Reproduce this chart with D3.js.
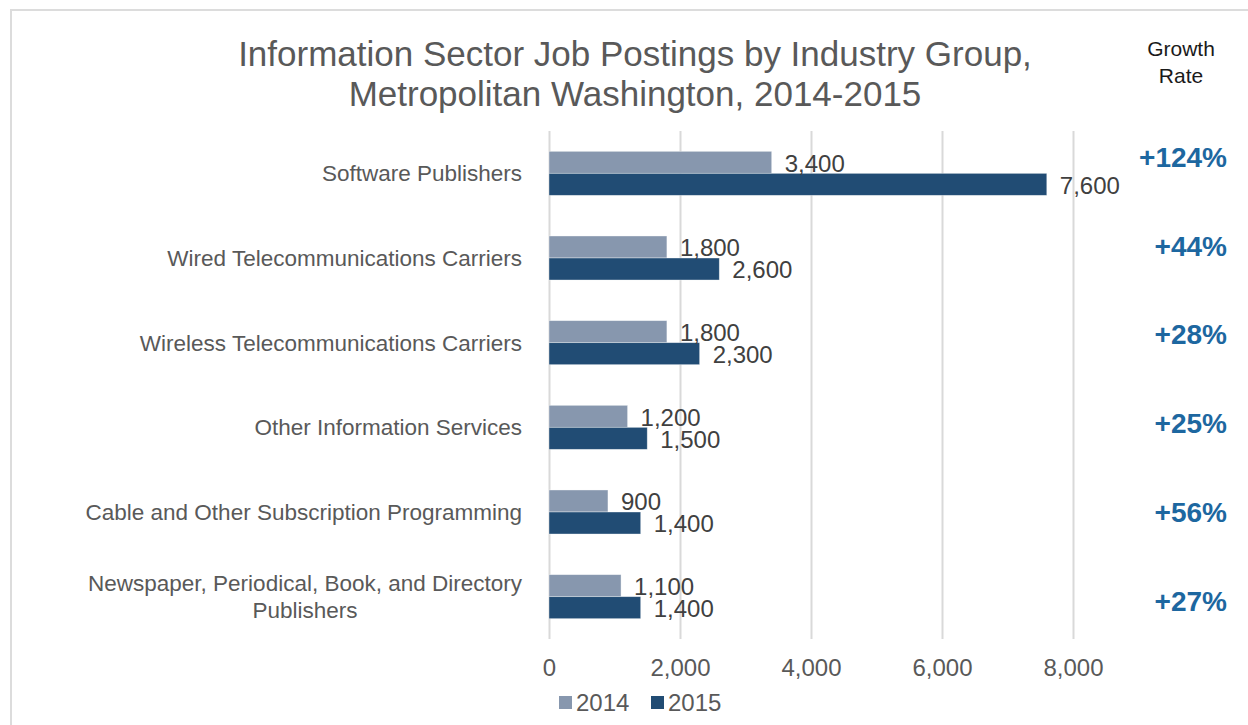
<!DOCTYPE html>
<html>
<head>
<meta charset="utf-8">
<script src="https://cdn.jsdelivr.net/npm/d3@7"></script>
<style>
  html, body { margin: 0; padding: 0; background: #fff; }
  svg { display: block; font-family: "Liberation Sans", Arial, sans-serif; }
</style>
</head>
<body>
<div id="chart"></div>
<script>
const WIDTH = 1248;
const HEIGHT = 725;

// data
const categories = [
    "Software Publishers",
    "Wired Telecommunications Carriers",
    "Wireless Telecommunications Carriers",
    "Other Information Services",
    "Cable and Other Subscription Programming",
    "Newspaper, Periodical, Book, and Directory\nPublishers"
];
const seriesNames = ["2014", "2015"];
const values2014 = [3400, 1800, 1800, 1200, 900, 1100];
const values2015 = [7600, 2600, 2300, 1500, 1400, 1400];
const growthRates = ["+124%", "+44%", "+28%", "+25%", "+56%", "+27%"];
const xTicks = [0, 2000, 4000, 6000, 8000];
const titleLines = [
    "Information Sector Job Postings by Industry Group,",
    "Metropolitan Washington, 2014-2015"
];
const growthHeader = ["Growth", "Rate"];

const COLORS = { "2014": "#8797ae", "2015": "#214c74" };
const TEXT_GREY = "#595959";
const LABEL_DARK = "#404040";
const GROWTH_BLUE = "#1d67a0";
const GRID = "#d9d9d9";

const plot = { left: 549, right: 1073, top: 131, bottom: 639 };

const svg = d3.select("#chart").append("svg")
              .attr("width", WIDTH)
              .attr("height", HEIGHT);

// frame lines at the top and left edge
svg.append("line")
   .attr("x1", 10).attr("x2", WIDTH)
   .attr("y1", 10).attr("y2", 10)
   .style("stroke", "#dcdcdc").style("stroke-width", 2);
svg.append("line")
   .attr("x1", 11).attr("x2", 11)
   .attr("y1", 9).attr("y2", HEIGHT)
   .style("stroke", "#dcdcdc").style("stroke-width", 2);

// Scales
const x = d3.scaleLinear().domain([0, 8000]).range([plot.left, plot.right]);
const y = d3.scaleBand().domain(categories).range([plot.top, plot.bottom])
            .paddingInner(0.48).paddingOuter(0.24);
const ySeries = d3.scaleBand().domain(seriesNames).range([0, y.bandwidth()]);
const yGrowth = d3.scalePoint().domain(categories).range([157, 601]);

// Title
svg.append("g").selectAll("text")
   .data(titleLines)
   .enter().append("text")
   .attr("x", 635)
   .attr("y", (d, i) => 66 + i * 40)
   .attr("text-anchor", "middle")
   .style("font-size", "35px")
   .style("fill", TEXT_GREY)
   .text(d => d);

// Growth rate header
svg.append("g").selectAll("text")
   .data(growthHeader)
   .enter().append("text")
   .attr("x", 1181)
   .attr("y", (d, i) => 56 + i * 27)
   .attr("text-anchor", "middle")
   .style("font-size", "21px")
   .style("fill", "#1a1a1a")
   .text(d => d);

// Gridlines + tick labels through an axis
const xAxis = svg.append("g")
                 .attr("transform", "translate(0," + plot.bottom + ")")
                 .call(d3.axisBottom(x).tickValues(xTicks)
                         .tickSize(-(plot.bottom - plot.top))
                         .tickFormat(d3.format(",")));
xAxis.select(".domain").remove();
xAxis.selectAll(".tick line")
     .style("stroke", GRID)
     .style("stroke-width", 2);
xAxis.selectAll(".tick text")
     .attr("y", 29)
     .attr("dy", "0.35em")
     .style("font-family", "\"Liberation Sans\", Arial, sans-serif")
     .style("font-size", "24px")
     .style("fill", TEXT_GREY);

// Bars
const rows = categories.map((c, i) => ({
    category: c,
    values: [
        { series: "2014", value: values2014[i] },
        { series: "2015", value: values2015[i] }
    ]
}));

const groups = svg.append("g").selectAll("g")
                  .data(rows)
                  .enter().append("g")
                  .attr("transform", d => "translate(0," + y(d.category) + ")");

groups.selectAll("rect")
      .data(d => d.values)
      .enter().append("rect")
      .attr("x", x(0))
      .attr("y", d => ySeries(d.series))
      .attr("width", d => x(d.value) - x(0))
      .attr("height", ySeries.bandwidth())
      .style("fill", d => COLORS[d.series])
      .style("stroke", "#ffffff")
      .style("stroke-opacity", 0.5)
      .style("stroke-width", 0.75);

groups.selectAll("text")
      .data(d => d.values)
      .enter().append("text")
      .attr("x", d => x(d.value) + 13)
      .attr("y", d => ySeries(d.series) + ySeries.bandwidth() / 2 + 1)
      .attr("dy", "0.35em")
      .style("font-size", "24px")
      .style("fill", LABEL_DARK)
      .text(d => d3.format(",")(d.value));

// Category labels (wrapped ones are centred within the right-aligned block)
const catLabels = svg.append("g").selectAll("g")
                     .data(categories)
                     .enter().append("g");

catLabels.each(function (d) {
    const g = d3.select(this);
    const lines = d.split("\n");
    const lineH = 27;
    const cy = y(d) + y.bandwidth() / 2;
    const texts = g.selectAll("text")
                   .data(lines)
                   .enter().append("text")
                   .attr("y", (l, i) => cy + (i - (lines.length - 1) / 2) * lineH)
                   .attr("dy", "0.35em")
                   .style("font-size", "22.5px")
                   .style("fill", TEXT_GREY)
                   .text(l => l);
    if (lines.length === 1) {
        texts.attr("x", 522).attr("text-anchor", "end");
    } else {
        let maxW = 0;
        texts.each(function () { maxW = Math.max(maxW, this.getComputedTextLength()); });
        texts.attr("x", 522 - maxW / 2).attr("text-anchor", "middle");
    }
});

// Growth rate column
svg.append("g").selectAll("text")
   .data(categories)
   .enter().append("text")
   .attr("x", 1227)
   .attr("y", d => yGrowth(d))
   .attr("dy", "0.35em")
   .attr("text-anchor", "end")
   .style("font-size", "28px")
   .style("font-weight", "bold")
   .style("fill", GROWTH_BLUE)
   .text((d, i) => growthRates[i]);

// Legend
const legend = svg.append("g").selectAll("g")
                  .data(seriesNames)
                  .enter().append("g")
                  .attr("transform", (d, i) => "translate(" + (559 + i * 92) + ",696)");
legend.append("rect")
      .attr("width", 13)
      .attr("height", 13)
      .style("fill", d => COLORS[d]);
legend.append("text")
      .attr("x", 17)
      .attr("y", 7)
      .attr("dy", "0.35em")
      .style("font-size", "24px")
      .style("fill", TEXT_GREY)
      .text(d => d);
</script>
</body>
</html>
